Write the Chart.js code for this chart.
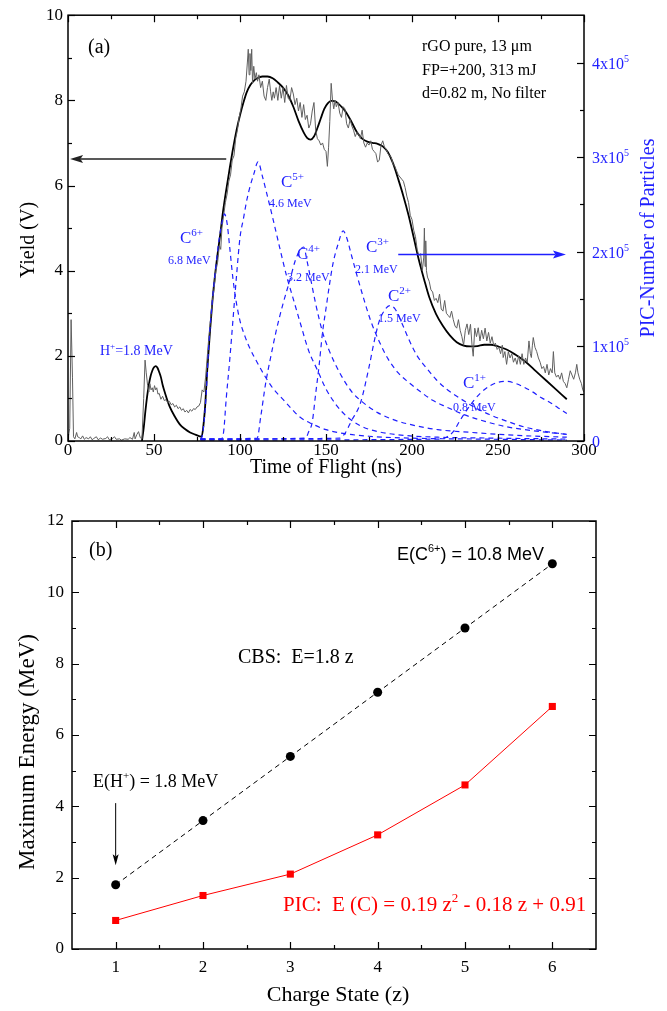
<!DOCTYPE html>
<html><head><meta charset="utf-8">
<script src="https://cdn.jsdelivr.net/npm/chart.js@4.4.1/dist/chart.umd.min.js"></script>
<style>
html,body{margin:0;padding:0;background:#fff;}
body{width:667px;height:1011px;position:relative;overflow:hidden;}
canvas{position:absolute;left:0;}
#ca{top:0;} #cb{top:480px;}
</style></head><body>
<canvas id="ca" width="667" height="480"></canvas>
<canvas id="cb" width="667" height="531"></canvas>
<script>
// ================= Panel (a): time-of-flight spectrum =================
const tofTicks = [0, 50, 100, 150, 200, 250, 300];
const yieldTicks = [0, 2, 4, 6, 8, 10];
const picTicks = [0, 1, 2, 3, 4];            // units of 10^5 particles
const picTickLabels = ['0', '1x10', '2x10', '3x10', '4x10'];

// measured signal [ns, V]
const expSignal = [[0,0.05],[1,0.3],[1.8,2.85],[2.6,1.5],[3.2,0.1],[4,0.05],[5,0.2],[5.6,0.1],[6.5,0.08],[7.5,0.05],[8.5,0.12],[9.5,0.04],[10.5,0.08],[12,0.05],[13,0.1],[14,0.03],[15,0.06],[16.5,0.1],[17.5,0.03],[19,0.07],[20,0.04],[22,0.06],[23,0.1],[24,0.03],[26,0.06],[27,0.1],[28,0.04],[30,0.05],[31,0.02],[33,0.05],[35,0.04],[36,0.08],[37.5,0.04],[38.5,0.2],[39,0.05],[40,0.15],[41,0.22],[42,0.08],[43,0.05],
[44,1.0],[44.8,1.9],[45.5,1.6],[46.3,1.3],[47,1.15],[47.6,1.35],[48.3,1.2],[49,1.25],[49.6,1.15],[50.3,1.3],[51,1.2],[51.6,1.25],[52.3,1.1],[53,1.12],[54,0.98],[55,1.05],[56,0.95],[57,0.97],[58,0.9],[59,0.93],[60,0.85],[61,0.88],[62,0.8],[63,0.84],[64,0.76],[65,0.8],[66,0.72],[67,0.76],[68,0.68],[69,0.72],[70,0.66],[71,0.74],[72,0.7],[73,0.76],[74,0.74],[75,0.8],[76,0.82],[77,0.9],[78,1.2],[79,1.15],[80,1.5],[81,2.0],[82,2.5],[83,2.9],[84,3.3],[85,3.6],[86,4.0],[87,4.2],[88,4.6],[88.8,4.5],[89.5,5.0],[90.5,5.3],[91.5,5.6],[92.5,5.8],[93.5,6.1],[94.5,6.25],[95.5,6.6],[96.5,6.7],[97.5,7.1],[98.5,7.3],[99.5,7.6],[100.5,7.8],[101.5,8.1],[102.5,8.2],[103.5,8.45],[104.3,8.9],[104.8,9.2],[105.3,8.6],[105.8,9.1],[106.3,8.7],[106.8,9.2],[107.3,8.4],[108,8.8],[108.7,8.5],[109.5,8.65],[110.2,8.45],[111,8.6],[112,8.3],[113,8.45],[114,8.1],[115,8.0],[116,8.3],[117,8.5],[117.8,8.2],[118.5,8.0],[119.3,8.2],[120,8.05],[121,8.3],[122,8.0],[123,8.35],[124,8.05],[125,8.3],[126,7.95],[127,8.35],[128,8.05],[129,8.0],[130,8.3],[131,8.15],[132,7.9],[133,8.05],[134,7.75],[135,7.95],[136,7.6],[137,7.9],[138,7.55],[139,7.65],[140,7.35],[141,7.45],[142,7.75],[143,7.95],[144,7.3],[145,7.1],[146,7.05],[147,6.95],[148,7.0],[149,6.85],[150,6.8],[150.8,6.45],[151.5,6.9],[152.2,7.5],[153,8.4],[153.8,8.0],[154.5,7.8],[155.3,8.0],[156,7.85],[157,7.95],[158,7.7],[159,7.6],[160,7.85],[161,7.8],[162,7.45],[163,7.35],[164,7.55],[165,7.4],[166,7.3],[167,7.15],[168,7.25],[169,7.2],[170,7.1],[171,7.3],[172,7.0],[173,6.9],[174,7.0],[175,6.95],[176,7.05],[177,6.85],[178,6.8],[179,6.75],[180,6.55],[181,6.6],[182,6.95],[183,7.05],[184,6.9],[185,6.85],[186,6.75],[187,6.7],[188,6.65],[189,6.5],[190,6.45],[191,6.35],[192,6.25],[193,6.2],[194,6.15],[195,6.1],[196,5.95],[197,5.75],[198,5.6],[199,5.3],[200,5.2],[201,4.95],[202,4.8],[203,4.5],[204,4.35],[205,4.4],[206,4.0],[206.8,4.3],[207.2,5.0],[207.6,4.1],[208,4.7],[208.4,4.0],[209,3.85],[210,3.75],[211,3.55],[212,3.5],[213,3.3],[214,3.35],[215,3.25],[216,3.45],[217,3.1],[218,3.05],[219,3.3],[220,3.0],[221,2.95],[222,2.9],[223,3.05],[224,2.85],[225,2.7],[226,2.65],[227,2.85],[228,2.6],[229,2.45],[230,2.25],[231,2.6],[232,2.75],[233,2.5],[234,2.74],[235,2.2],[235.6,1.99],[236.5,2.65],[237.5,2.45],[238.5,2.66],[239.5,2.35],[240.5,2.6],[241.5,2.4],[242.5,2.65],[243.5,2.35],[244.5,2.55],[245.5,2.3],[246.5,2.45],[247.5,2.25],[248.5,2.3],[249.5,2.15],[250.5,2.2],[251.5,2.05],[252.5,2.25],[253,1.96],[254,2.1],[255,1.8],[256,2.1],[257,1.95],[258,2.05],[259,1.85],[260,1.95],[261,1.8],[262,2.0],[263,1.8],[264,2.05],[265,1.8],[266,1.95],[267,1.85],[268,2.35],[268.8,2.05],[269.4,1.96],[270,2.25],[270.5,2.43],[271.5,2.2],[272.5,2.1],[273.5,1.95],[274.5,1.85],[275.5,1.7],[276.5,1.75],[277.5,1.6],[278.5,1.8],[279.5,1.55],[280.5,1.7],[281.5,1.6],[282.2,2.1],[283,1.6],[284,1.5],[285,1.55],[286,1.45],[287,1.6],[288,1.4],[289,1.35],[290,1.25],[291,1.45],[292,1.65],[293,1.55],[294,1.45],[295,1.6],[295.8,1.8],[296.5,1.6],[297.5,1.45],[298.5,1.35],[299.3,1.2],[300,1.15]];

// smooth fit [ns, V]
const fitCurve = [[43,0],[44,0.3],[45,0.7],[46,1.05],[47,1.32],[48,1.52],[49,1.65],[50,1.73],[51,1.76],[52,1.72],[53,1.62],[54,1.5],[55,1.32],[56,1.18],[57,1.05],[59,0.82],[62,0.58],[65,0.39],[68,0.28],[71,0.2],[74,0.15],[77.7,0.1],[78.7,0.35],[79.7,0.8],[81,1.7],[82.6,2.6],[84,3.3],[85.5,3.9],[87,4.4],[88.5,4.85],[90,5.35],[92,5.9],[94,6.4],[96,6.88],[98,7.3],[100,7.65],[102,7.95],[104,8.2],[106,8.36],[108,8.46],[110,8.52],[113,8.56],[116,8.56],[119,8.52],[122,8.42],[125,8.3],[128,8.12],[131,7.85],[134,7.52],[137,7.25],[139,7.12],[141,7.08],[143,7.15],[145,7.35],[147,7.58],[149,7.8],[151,7.93],[153,7.99],[155,7.98],[157,7.93],[159,7.85],[162,7.7],[165,7.48],[168,7.25],[171,7.1],[174,7.03],[177,7.0],[180,6.98],[183,6.92],[186,6.78],[189,6.52],[192,6.15],[195,5.75],[198,5.3],[201,4.78],[204,4.25],[207,3.8],[210,3.38],[214,2.98],[218,2.7],[222,2.48],[226,2.32],[230,2.24],[234,2.22],[238,2.23],[242,2.26],[246,2.26],[250,2.22],[255,2.15],[260,2.03],[266,1.86],[272,1.64],[278,1.42],[284,1.2],[290,0.98]];

// PIC number of particles [ns, x10^5]
const picC6 = [[77,0.02],[78,0.05],[80,0.4],[82,1.05],[84,1.5],[86,1.85],[88,2.15],[90,2.35],[91,2.4],[92.5,2.3],[94,2.05],[96,1.7],[98,1.45],[100,1.27],[103,1.1],[106,0.97],[110,0.83],[114,0.7],[119,0.56],[125,0.44],[130,0.34],[135,0.25],[142,0.18],[150,0.12],[160,0.08],[175,0.05],[200,0.03],[240,0.02],[290,0.01]];
const picC5 = [[77,0.02],[89,0.02],[90.5,0.1],[92,0.45],[94,0.85],[96,1.3],[98,1.75],[100,2.15],[102,2.35],[104,2.55],[106,2.7],[108,2.82],[110.5,2.95],[113,2.8],[115.5,2.62],[119,2.36],[123,2.05],[127,1.75],[131,1.5],[135,1.25],[140,0.95],[145,0.75],[150,0.55],[156,0.38],[162,0.26],[170,0.16],[180,0.1],[195,0.06],[215,0.04],[250,0.03],[290,0.02]];
const picC4 = [[77,0.02],[110,0.03],[112,0.25],[115,0.62],[118,0.9],[121,1.16],[125,1.45],[129,1.7],[132,1.9],[135,2.02],[137,2.05],[139,1.9],[141,1.72],[144,1.45],[148,1.15],[152,0.95],[158,0.72],[165,0.52],[172,0.4],[180,0.3],[190,0.22],[200,0.17],[215,0.12],[235,0.09],[260,0.06],[290,0.04]];
const picC3 = [[77,0.02],[138,0.03],[140,0.1],[142,0.2],[144,0.5],[146,0.8],[148,1.15],[150,1.4],[152,1.65],[154,1.87],[157,2.08],[160,2.22],[162,2.15],[165,1.95],[168,1.75],[172,1.5],[176,1.27],[181,1.05],[186,0.87],[192,0.72],[198,0.62],[205,0.52],[212,0.43],[220,0.36],[230,0.28],[240,0.22],[255,0.15],[270,0.11],[290,0.07]];
const picC2 = [[77,0.02],[158,0.03],[161,0.08],[165,0.22],[170,0.4],[175,0.78],[178,1.05],[181,1.27],[184,1.38],[187,1.43],[190,1.4],[194,1.25],[198,1.08],[203,0.9],[208,0.78],[214,0.65],[220,0.55],[228,0.45],[236,0.36],[245,0.28],[255,0.21],[265,0.15],[278,0.1],[290,0.07]];
const picC1 = [[77,0.01],[215,0.02],[220,0.04],[224,0.1],[228,0.22],[232,0.33],[236,0.43],[240,0.51],[245,0.58],[250,0.62],[255,0.63],[260,0.61],[265,0.57],[270,0.52],[275,0.46],[280,0.41],[285,0.35],[290,0.29]];

// ================= Panel (b): maximum energy vs charge state =================
const chargeStates = [1, 2, 3, 4, 5, 6];
const cbsEnergy = [1.8, 3.6, 5.4, 7.2, 9.0, 10.8];
const picEnergy = [0.8, 1.5, 2.1, 3.2, 4.6, 6.8];
const chargeTicks = [1, 2, 3, 4, 5, 6];
const energyTicks = [0, 2, 4, 6, 8, 10, 12];

// ---------------- helpers ----------------
const SERIF = '"Liberation Serif", "Times New Roman", serif';
const SANS = '"Liberation Sans", Arial, sans-serif';
const BLUE = '#1f1fff';
const xy = a => a.map(p => ({x: p[0], y: p[1]}));
const mids = a => a.slice(1).map((v, i) => (v + a[i]) / 2);
const setTicks = arr => s => { s.ticks = arr.map(v => ({value: v})); };

function rich(ctx, x, y, parts, family, color, align, rot) {
  ctx.save();
  ctx.fillStyle = color; ctx.textBaseline = 'alphabetic'; ctx.textAlign = 'left';
  let w = 0;
  parts.forEach(p => { ctx.font = p.s + 'px ' + family; p.w = ctx.measureText(p.t).width; w += p.w; });
  ctx.translate(x, y);
  if (rot) ctx.rotate(rot);
  let cx = align === 'center' ? -w / 2 : (align === 'right' ? -w : 0);
  parts.forEach(p => { ctx.font = p.s + 'px ' + family; ctx.fillText(p.t, cx, -(p.dy || 0)); cx += p.w; });
  ctx.restore();
}
function arrow(ctx, x1, y1, x2, y2, color, lw, hl, hw) {
  const a = Math.atan2(y2 - y1, x2 - x1);
  ctx.save(); ctx.strokeStyle = color; ctx.fillStyle = color; ctx.lineWidth = lw; ctx.setLineDash([]);
  ctx.beginPath(); ctx.moveTo(x1, y1);
  ctx.lineTo(x2 - Math.cos(a) * hl * 0.8, y2 - Math.sin(a) * hl * 0.8); ctx.stroke();
  ctx.translate(x2, y2); ctx.rotate(a);
  ctx.beginPath(); ctx.moveTo(0, 0); ctx.lineTo(-hl, -hw); ctx.lineTo(-hl * 0.8, 0); ctx.lineTo(-hl, hw); ctx.closePath(); ctx.fill();
  ctx.restore();
}
// frame + inward ticks
function frameTicks(chart, specs) {
  const {ctx, chartArea: ca} = chart;
  ctx.save();
  ctx.strokeStyle = '#000'; ctx.lineWidth = 1.5; ctx.setLineDash([]);
  ctx.strokeRect(ca.left, ca.top, ca.right - ca.left, ca.bottom - ca.top);
  ctx.lineWidth = 1.2;
  specs.forEach(sp => {
    const sc = chart.scales[sp.scale];
    [[sp.major, 7], [sp.minor, 4]].forEach(([vals, len]) => {
      vals.forEach(v => {
        const p = Math.round(sc.getPixelForValue(v)) + 0.5;
        ctx.beginPath();
        sp.sides.forEach(side => {
          if (side === 'bottom') { ctx.moveTo(p, ca.bottom); ctx.lineTo(p, ca.bottom - len); }
          if (side === 'top') { ctx.moveTo(p, ca.top); ctx.lineTo(p, ca.top + len); }
          if (side === 'left') { ctx.moveTo(ca.left, p); ctx.lineTo(ca.left + len, p); }
          if (side === 'right') { ctx.moveTo(ca.right, p); ctx.lineTo(ca.right - len, p); }
        });
        ctx.stroke();
      });
    });
  });
  ctx.restore();
}

// ---------------- chart (a) ----------------
const picSeries = [picC6, picC5, picC4, picC3, picC2, picC1];
const dashed = d => ({data: xy(d), yAxisID: 'y2', borderColor: BLUE, borderWidth: 1.2, borderDash: [5, 4],
  pointRadius: 0, tension: 0.35, cubicInterpolationMode: 'monotone', fill: false});

const pluginA = {
  id: 'decorA',
  afterDraw(chart) {
    const {ctx} = chart; const X = chart.scales.x, Y = chart.scales.y, Y2 = chart.scales.y2;
    frameTicks(chart, [
      {scale: 'x', sides: ['bottom', 'top'], major: tofTicks, minor: mids(tofTicks)},
      {scale: 'y', sides: ['left'], major: yieldTicks, minor: mids(yieldTicks)},
      {scale: 'y2', sides: ['right'], major: picTicks, minor: mids(picTicks)}
    ]);
    // right axis labels (blue, with superscript)
    picTicks.forEach((v, i) => {
      const py = Y2.getPixelForValue(v) + 6;
      const parts = i === 0 ? [{t: '0', s: 16}] : [{t: picTickLabels[i], s: 16}, {t: '5', s: 10, dy: 7}];
      rich(ctx, chart.chartArea.right + 8, py, parts, SERIF, BLUE, 'left');
    });
    // axis titles
    rich(ctx, 34, 240, [{t: 'Yield (V)', s: 20}], SERIF, '#000', 'center', -Math.PI / 2);
    rich(ctx, 654, 238, [{t: 'PIC-Number of Particles', s: 20}], SERIF, BLUE, 'center', -Math.PI / 2);
    rich(ctx, 326, 473, [{t: 'Time of Flight (ns)', s: 20}], SERIF, '#000', 'center');
    // panel label and experiment notes
    rich(ctx, 88, 53, [{t: '(a)', s: 20}], SERIF, '#000', 'left');
    rich(ctx, 422, 51, [{t: 'rGO pure, 13 μm', s: 16}], SERIF, '#000', 'left');
    rich(ctx, 422, 75, [{t: 'FP=+200, 313 mJ', s: 16}], SERIF, '#000', 'left');
    rich(ctx, 422, 98, [{t: 'd=0.82 m, No filter', s: 16}], SERIF, '#000', 'left');
    // ion labels
    const ion = (x, y, q) => rich(ctx, x, y, [{t: 'C', s: 17}, {t: q, s: 11, dy: 7}], SERIF, BLUE, 'left');
    const mev = (x, y, t) => rich(ctx, x, y, [{t: t, s: 12}], SERIF, BLUE, 'left');
    ion(180, 243, '6+'); mev(168, 264, '6.8 MeV');
    ion(281, 187, '5+'); mev(269, 207, '4.6 MeV');
    ion(297, 259, '4+'); mev(287, 281, '3.2 MeV');
    ion(366, 252, '3+'); mev(355, 273, '2.1 MeV');
    ion(388, 301, '2+'); mev(378, 322, '1.5 MeV');
    ion(463, 388, '1+'); mev(453, 411, '0.8 MeV');
    rich(ctx, 100, 355, [{t: 'H', s: 14}, {t: '+', s: 9, dy: 6}, {t: '=1.8 MeV', s: 14}], SERIF, BLUE, 'left');
    // arrows pointing to axes
    const ay = Y.getPixelForValue(6.62);
    arrow(ctx, X.getPixelForValue(92), ay, X.getPixelForValue(1.2), ay, '#222', 1.5, 13, 4);
    const by = Y2.getPixelForValue(1.97);
    arrow(ctx, X.getPixelForValue(192), by, X.getPixelForValue(289.5), by, BLUE, 1.5, 13, 4);
  }
};

new Chart(document.getElementById('ca'), {
  type: 'line',
  data: {datasets: [
    ...picSeries.map(dashed),
    {data: xy(expSignal), yAxisID: 'y', borderColor: '#606060', borderWidth: 1, pointRadius: 0, tension: 0},
    {data: xy(fitCurve), yAxisID: 'y', borderColor: '#000', borderWidth: 1.8, pointRadius: 0, tension: 0.4, cubicInterpolationMode: 'monotone'}
  ]},
  options: {
    responsive: false, animation: false, devicePixelRatio: 1,
    layout: {padding: {top: 14, left: 0, right: 0, bottom: 0}},
    plugins: {legend: {display: false}, tooltip: {enabled: false}},
    scales: {
      x: {type: 'linear', min: 0, max: 300, afterBuildTicks: setTicks(tofTicks), afterFit: s => { s.height = 39; },
          grid: {display: false, drawTicks: false}, border: {display: false},
          ticks: {font: {family: SERIF, size: 17, lineHeight: 1}, color: '#000', padding: 1, maxRotation: 0}},
      y: {position: 'left', min: 0, max: 10, afterBuildTicks: setTicks(yieldTicks), afterFit: s => { s.width = 68; },
          grid: {display: false, drawTicks: false}, border: {display: false},
          ticks: {font: {family: SERIF, size: 17}, color: '#000', padding: 5}},
      y2: {position: 'right', min: 0, max: 4.5, afterBuildTicks: setTicks(picTicks), afterFit: s => { s.width = 83; },
          grid: {display: false, drawTicks: false}, border: {display: false}, ticks: {display: false}}
    }
  },
  plugins: [pluginA]
});

// ---------------- chart (b) ----------------
const pluginB = {
  id: 'decorB',
  afterDraw(chart) {
    const {ctx} = chart; const X = chart.scales.x, Y = chart.scales.y;
    frameTicks(chart, [
      {scale: 'x', sides: ['bottom', 'top'], major: chargeTicks, minor: mids(chargeTicks)},
      {scale: 'y', sides: ['left', 'right'], major: energyTicks, minor: mids(energyTicks)}
    ]);
    rich(ctx, 34, 272, [{t: 'Maximum Energy (MeV)', s: 23}], SERIF, '#000', 'center', -Math.PI / 2);
    rich(ctx, 338, 521, [{t: 'Charge State (z)', s: 22}], SERIF, '#000', 'center');
    rich(ctx, 89, 76, [{t: '(b)', s: 20}], SERIF, '#000', 'left');
    rich(ctx, 397, 80, [{t: 'E(C', s: 18}, {t: '6+', s: 11, dy: 8}, {t: ') = 10.8 MeV', s: 18}], SANS, '#000', 'left');
    rich(ctx, 238, 183, [{t: 'CBS:  E=1.8 z', s: 20}], SERIF, '#000', 'left');
    rich(ctx, 93, 307, [{t: 'E(H', s: 18}, {t: '+', s: 11, dy: 8}, {t: ') = 1.8 MeV', s: 18}], SERIF, '#000', 'left');
    rich(ctx, 283, 431, [{t: 'PIC:  E (C) = 0.19 z', s: 21}, {t: '2', s: 13, dy: 9}, {t: ' - 0.18 z + 0.91', s: 21}], SERIF, '#ff0000', 'left');
    const ax = X.getPixelForValue(1);
    arrow(ctx, ax, Y.getPixelForValue(4.09), ax, Y.getPixelForValue(2.35), '#000', 1, 11, 3);
  }
};

new Chart(document.getElementById('cb'), {
  type: 'line',
  data: {datasets: [
    {data: chargeStates.map((z, i) => ({x: z, y: cbsEnergy[i]})), borderColor: '#000', borderWidth: 1, borderDash: [5, 4],
     pointStyle: 'circle', pointRadius: 4.5, pointBackgroundColor: '#000', pointBorderWidth: 0, tension: 0},
    {data: chargeStates.map((z, i) => ({x: z, y: picEnergy[i]})), borderColor: '#ff0000', borderWidth: 1,
     pointStyle: 'rect', pointRadius: 5, pointBackgroundColor: '#ff0000', pointBorderWidth: 0, tension: 0}
  ]},
  options: {
    responsive: false, animation: false, devicePixelRatio: 1,
    layout: {padding: {top: 41, left: 0, right: 71, bottom: 0}},
    plugins: {legend: {display: false}, tooltip: {enabled: false}},
    scales: {
      x: {type: 'linear', min: 0.5, max: 6.5, afterBuildTicks: setTicks(chargeTicks), afterFit: s => { s.height = 62; },
          grid: {display: false, drawTicks: false}, border: {display: false},
          ticks: {font: {family: SERIF, size: 17, lineHeight: 1}, color: '#000', padding: 10, maxRotation: 0}},
      y: {position: 'left', min: 0, max: 12, afterBuildTicks: setTicks(energyTicks), afterFit: s => { s.width = 72; },
          grid: {display: false, drawTicks: false}, border: {display: false},
          ticks: {font: {family: SERIF, size: 17}, color: '#000', padding: 8}}
    }
  },
  plugins: [pluginB]
});
</script>
</body></html>
